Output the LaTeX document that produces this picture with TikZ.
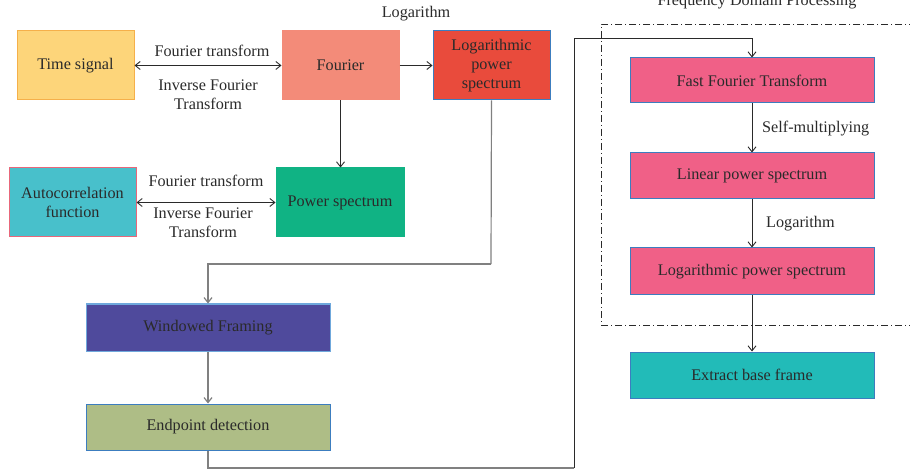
\documentclass[tikz,border=0pt]{standalone}
\usepackage{fontspec}
\setmainfont{Liberation Serif}
\usetikzlibrary{arrows.meta}
\definecolor{txt}{HTML}{2A2A2A}
\definecolor{cyellow}{HTML}{FDD57A}
\definecolor{corange}{HTML}{F5B04A}
\definecolor{csalmon}{HTML}{F38B79}
\definecolor{cred}{HTML}{E94B3C}
\definecolor{cblue}{HTML}{3C7DBF}
\definecolor{ccyan}{HTML}{48C0CB}
\definecolor{cpinkb}{HTML}{E8677A}
\definecolor{cgreen}{HTML}{10B384}
\definecolor{cpurple}{HTML}{4F4A9C}
\definecolor{clblue}{HTML}{6FA8DC}
\definecolor{colive}{HTML}{AEBD86}
\definecolor{cpink}{HTML}{F06087}
\definecolor{cteal}{HTML}{22BBB8}
\definecolor{cgray}{HTML}{808080}
\tikzset{
  box/.style={draw, line width=1pt, rectangle, inner sep=0pt, align=center,
    text=txt, font=\fontsize{16.2}{19}\selectfont},
  lbl/.style={text=txt, font=\fontsize{16.2}{19}\selectfont, align=center, inner sep=0pt},
  conn/.style={draw=txt, line width=0.9pt},
  gconn/.style={draw=cgray, line width=1.2pt},
  arr/.style={-{Straight Barb[length=5pt,width=8pt]}},
  darr/.style={{Straight Barb[length=5pt,width=8pt]}-{Straight Barb[length=5pt,width=8pt]}},
  frame/.style={draw=txt, line width=0.9pt, dash pattern=on 7pt off 3pt on 1pt off 3pt},
}
\begin{document}
\begin{tikzpicture}[x=1pt,y=-1pt]
\useasboundingbox (0,0) rectangle (910,470);
% nodes
\node[box, fill=cyellow, draw=corange, minimum width=117, minimum height=69] (ts) at (75.5,65.5) {Time signal};
\node[box, fill=csalmon, draw=csalmon, minimum width=117, minimum height=69] (four) at (340.5,65.5) {Fourier};
\node[box, fill=cred, draw=cblue, minimum width=117, minimum height=69] (lps) at (491.5,65.5) {Logarithmic\\power\\spectrum};
\node[box, fill=ccyan, draw=cpinkb, minimum width=127, minimum height=69] (ac) at (72.5,202.5) {Autocorrelation\\function};
\node[box, fill=cgreen, draw=cgreen, minimum width=128, minimum height=69] (ps) at (340,202.5) {Power spectrum};
\node[box, fill=cpurple, draw=clblue, minimum width=244, minimum height=47] (wf) at (208,327.5) {Windowed Framing};
\node[box, fill=colive, draw=cblue, minimum width=244, minimum height=46] (ed) at (208,427) {Endpoint detection};
\node[box, fill=cpink, draw=cblue, minimum width=244, minimum height=45] (fft) at (752,80.5) {Fast Fourier Transform};
\node[box, fill=cpink, draw=cblue, minimum width=244, minimum height=46] (lin) at (752,176) {Linear power spectrum};
\node[box, fill=cpink, draw=cblue, minimum width=244, minimum height=47] (logp) at (752,271.5) {Logarithmic power spectrum};
\node[box, fill=cteal, draw=cblue, minimum width=244, minimum height=46] (ebf) at (752,375) {Extract base frame};
% frame
\draw[frame] (930,24) -- (601,24) -- (601,325) -- (930,325);
\node[lbl] (ftitle) at (757,2) {Frequency Domain Processing};
% labels
\node[lbl] (l1) at (212,51) {Fourier transform};
\node[lbl] (l2) at (208,94.5) {Inverse Fourier\\Transform};
\node[lbl] (l3) at (206,181) {Fourier transform};
\node[lbl] (l4) at (203,223) {Inverse Fourier\\Transform};
\node[lbl] (l5) at (416,14) {Logarithm};
\node[lbl, anchor=west] (l6) at (762,129) {Self-multiplying};
\node[lbl, anchor=west] (l7) at (766,224) {Logarithm};
% coordinates
\coordinate (c1) at (491,264);
\coordinate (c2) at (574,468);
\coordinate (c3) at (574,38);
% connectors
\draw[conn, darr] (ts.east) -- (four.west);
\draw[conn, arr] (four.east) -- (lps.west);
\draw[conn, arr] (four.south) -- (four.south |- ps.north);
\draw[conn, darr] (ac.east) -- (ps.west);
\draw[gconn] (lps.south) -- (c1);
\draw[gconn, arr] (c1) -| (wf.north);
\draw[gconn, arr] (wf.south) -- (ed.north);
\draw[gconn] (ed.south) |- (c2);
\draw[conn, arr] (c2) -- (c3) -| (fft.north);
\draw[conn, arr] (fft.south) -- (lin.north);
\draw[conn, arr] (lin.south) -- (logp.north);
\draw[conn, arr] (logp.south) -- (ebf.north);
\end{tikzpicture}
\end{document}
